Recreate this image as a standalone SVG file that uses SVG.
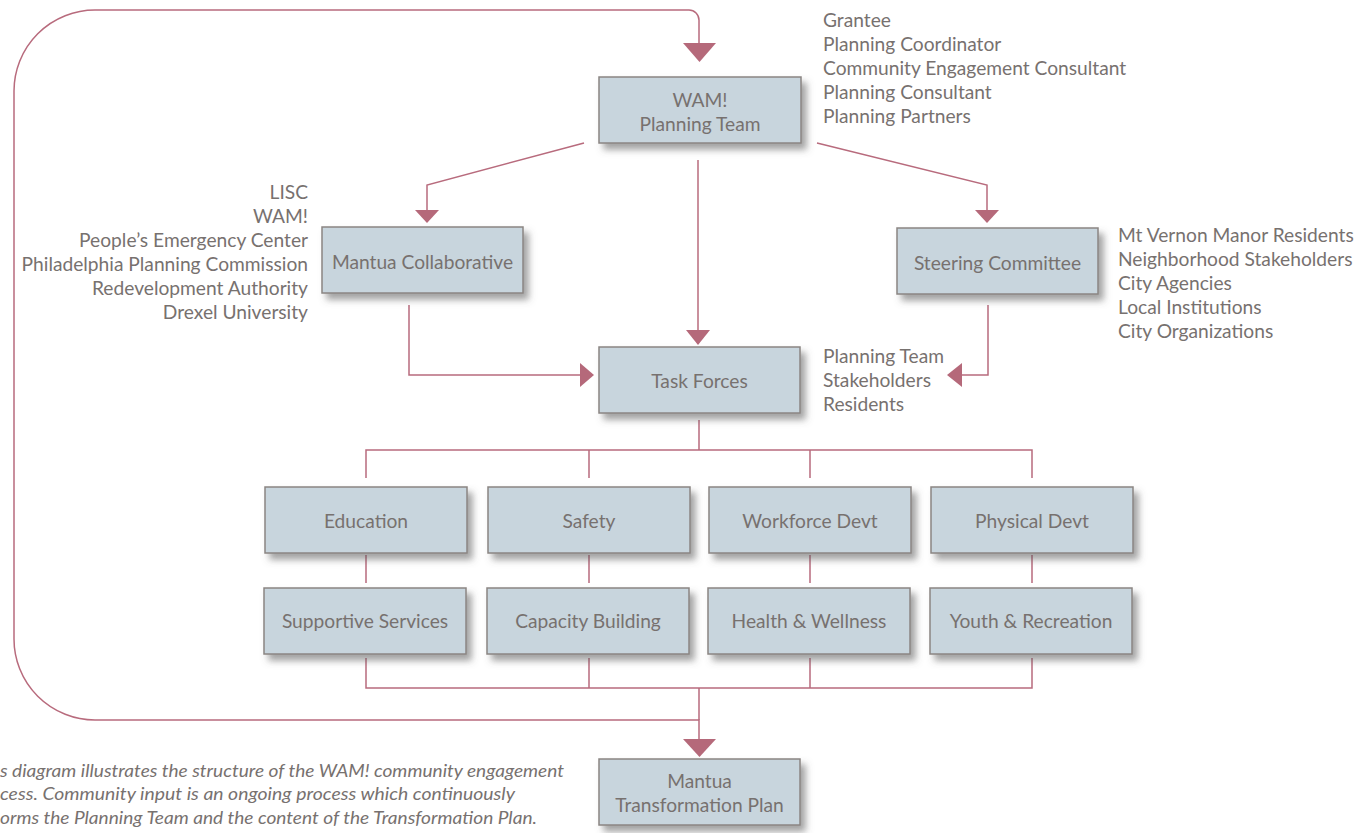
<svg xmlns="http://www.w3.org/2000/svg" width="1357" height="833" viewBox="0 0 1357 833">
<defs>
<style>
.box{fill:#c8d5dd;stroke:#8b8583;stroke-width:1.5;filter:url(#sh)}
.t{font-family:Lato,"Liberation Sans",sans-serif;font-size:19.2px;fill:#77716f}
.c{text-anchor:middle}
.r{text-anchor:end}
.cap{font-family:Lato,"Liberation Sans",sans-serif;font-size:18px;font-style:italic;fill:#77716f}
.ln{fill:none;stroke:#b86b7d;stroke-width:1.5}
.ah{fill:#b5697a}
</style>
<filter id="sh" x="-10%" y="-20%" width="130%" height="160%">
<feDropShadow dx="5" dy="6" stdDeviation="3.5" flood-color="#555" flood-opacity="0.55"/>
</filter>
</defs>
<rect width="1357" height="833" fill="#fff"/>
<g id="connectors">
<path class="ln" d="M699,740 V720 H95 A81,81 0 0 1 14,639 V91 A81,81 0 0 1 95,10 H689 A10,10 0 0 1 699,20 V44"/>
<polygon class="ah" points="683,43 716,43 699.5,62"/>
<path class="ln" d="M584,143 L427,185 V211"/>
<polygon class="ah" points="415,210 439,210 427,223"/>
<path class="ln" d="M817,143 L987,185 V211"/>
<polygon class="ah" points="975,210 999,210 987,223"/>
<path class="ln" d="M698,160 V331"/>
<polygon class="ah" points="686,330 710,330 698,345"/>
<path class="ln" d="M409,305 V375 H581"/>
<polygon class="ah" points="580,363 580,387 594,375"/>
<path class="ln" d="M988,305 V375 H961"/>
<polygon class="ah" points="962,363 962,387 947,375"/>
<path class="ln" d="M699,420 V450 M366,478 V450 H1032 V478 M589,450 V478 M810,450 V478"/>
<path class="ln" d="M366,555 V583 M589,555 V583 M810,555 V583 M1032,555 V583"/>
<path class="ln" d="M366,658 V688 H1032 V658 M589,658 V688 M810,658 V688 M699,688 V720"/>
<polygon class="ah" points="683,739 716,739 699.5,757"/>
</g>
<g id="wam">
<rect class="box" x="599" y="77" width="202" height="66"/>
<text class="t c" x="700" y="107">WAM!</text>
<text class="t c" x="700" y="131">Planning Team</text>
</g>
<g id="wam-list">
<text class="t" x="823" y="27">Grantee</text>
<text class="t" x="823" y="51">Planning Coordinator</text>
<text class="t" x="823" y="75">Community Engagement Consultant</text>
<text class="t" x="823" y="99">Planning Consultant</text>
<text class="t" x="823" y="123">Planning Partners</text>
</g>
<g id="mantua-collab">
<rect class="box" x="322" y="227" width="201" height="66"/>
<text class="t c" x="422.5" y="269">Mantua Collaborative</text>
</g>
<g id="collab-list">
<text class="t r" x="308" y="199">LISC</text>
<text class="t r" x="308" y="223">WAM!</text>
<text class="t r" x="308" y="247">People’s Emergency Center</text>
<text class="t r" x="308" y="271">Philadelphia Planning Commission</text>
<text class="t r" x="308" y="295">Redevelopment Authority</text>
<text class="t r" x="308" y="319">Drexel University</text>
</g>
<g id="steering">
<rect class="box" x="897" y="228" width="201" height="66"/>
<text class="t c" x="997.5" y="270">Steering Committee</text>
</g>
<g id="steering-list">
<text class="t" x="1118" y="242">Mt Vernon Manor Residents</text>
<text class="t" x="1118" y="266">Neighborhood Stakeholders</text>
<text class="t" x="1118" y="290">City Agencies</text>
<text class="t" x="1118" y="314">Local Institutions</text>
<text class="t" x="1118" y="338">City Organizations</text>
</g>
<g id="task-forces">
<rect class="box" x="599" y="347" width="201" height="66"/>
<text class="t c" x="699.5" y="388">Task Forces</text>
</g>
<g id="task-list">
<text class="t" x="823" y="363">Planning Team</text>
<text class="t" x="823" y="387">Stakeholders</text>
<text class="t" x="823" y="411">Residents</text>
</g>
<g id="education"><rect class="box" x="265" y="487" width="202" height="66"/><text class="t c" x="366" y="528">Education</text></g>
<g id="safety"><rect class="box" x="488" y="487" width="202" height="66"/><text class="t c" x="589" y="528">Safety</text></g>
<g id="workforce"><rect class="box" x="709" y="487" width="202" height="66"/><text class="t c" x="810" y="528">Workforce Devt</text></g>
<g id="physical"><rect class="box" x="931" y="487" width="202" height="66"/><text class="t c" x="1032" y="528">Physical Devt</text></g>
<g id="supportive"><rect class="box" x="264" y="588" width="202" height="66"/><text class="t c" x="365" y="628">Supportive Services</text></g>
<g id="capacity"><rect class="box" x="487" y="588" width="202" height="66"/><text class="t c" x="588" y="628">Capacity Building</text></g>
<g id="health"><rect class="box" x="708" y="588" width="202" height="66"/><text class="t c" x="809" y="628">Health &amp; Wellness</text></g>
<g id="youth"><rect class="box" x="930" y="588" width="202" height="66"/><text class="t c" x="1031" y="628">Youth &amp; Recreation</text></g>
<g id="plan">
<rect class="box" x="599" y="759" width="201" height="66"/>
<text class="t c" x="699.5" y="788">Mantua</text>
<text class="t c" x="699.5" y="812">Transformation Plan</text>
</g>
<g id="caption">
<text class="cap" x="0" y="777" textLength="564" lengthAdjust="spacingAndGlyphs">s diagram illustrates the structure of the WAM! community engagement</text>
<text class="cap" x="0" y="800" textLength="515" lengthAdjust="spacingAndGlyphs">cess. Community input is an ongoing process which continuously</text>
<text class="cap" x="0" y="824" textLength="537" lengthAdjust="spacingAndGlyphs">orms the Planning Team and the content of the Transformation Plan.</text>
</g>
</svg>
